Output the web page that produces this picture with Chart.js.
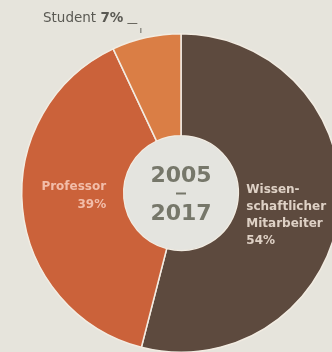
<!DOCTYPE html>
<html>
<head>
<meta charset="utf-8">
<script src="https://cdn.jsdelivr.net/npm/chart.js@4"></script>
<style>
  html, body { margin: 0; padding: 0; overflow: hidden; background: #e6e4dc; }
  #wrap { position: relative; width: 332px; height: 352px; overflow: hidden; }
  #pie { position: absolute; left: 0; top: 0; }
</style>
</head>
<body>
<div id="wrap"><canvas id="pie" width="360" height="360"></canvas></div>
<script>
// Anteile nach Gruppe, 2005 - 2017
const groups = ["Wissenschaftlicher Mitarbeiter", "Professor", "Student"];
const shares = [54, 39, 7];
const sliceColors = ["#5d4a3e", "#cb623a", "#da7e45"];
const yearFrom = "2005";
const yearTo = "2017";

const mitarbeiterLines = ["Wissen-", "schaftlicher", "Mitarbeiter"];
const labelFont = "'DejaVu Sans', sans-serif";

// light fill inside the hole
const holePlugin = {
  id: "hole",
  afterDatasetsDraw(chart) {
    const a = chart.getDatasetMeta(0).data[0];
    const ctx = chart.ctx;
    ctx.save();
    ctx.fillStyle = "#e4e4df";
    ctx.beginPath();
    ctx.arc(a.x, a.y, a.innerRadius - 0.5, 0, Math.PI * 2);
    ctx.fill();
    ctx.restore();
  }
};

const labelPlugin = {
  id: "sliceLabels",
  afterDatasetsDraw(chart) {
    const ctx = chart.ctx;
    const arcs = chart.getDatasetMeta(0).data;
    const cx = arcs[0].x, cy = arcs[0].y;
    const r = arcs[0].outerRadius;
    const lh = 17;

    ctx.save();
    ctx.textBaseline = "middle";

    // Mitarbeiter, right side
    let x = cx + r * 0.41;
    let y = cy - 3;
    ctx.textAlign = "left";
    ctx.fillStyle = "rgba(240,228,216,0.88)";
    ctx.font = "bold 12px " + labelFont;
    mitarbeiterLines.forEach((t, i) => ctx.fillText(t, x, y + i * lh));
    ctx.fillText(shares[0] + "%", x, y + 3 * lh);

    // Professor, left side
    x = cx - r * 0.47;
    y = cy - 6;
    ctx.textAlign = "right";
    ctx.fillStyle = "rgba(246,200,182,0.9)";
    ctx.fillText("Professor", x, y);
    ctx.fillText(shares[1] + "%", x, y + 18);

    // Student, outside with a short leader
    ctx.textAlign = "left";
    ctx.fillStyle = "#5a5953";
    ctx.font = "13.5px " + labelFont;
    const sx = 43, sy = 18;
    ctx.fillText("Student ", sx, sy);
    const w = ctx.measureText("Student ").width;
    ctx.font = "bold 13.5px " + labelFont;
    const pct = shares[2] + "%";
    ctx.fillText(pct, sx + w, sy);
    const ex = sx + w + ctx.measureText(pct).width + 4;
    ctx.strokeStyle = "#6a6860";
    ctx.lineWidth = 1;
    ctx.beginPath();
    ctx.moveTo(ex, sy + 5.5);
    ctx.lineTo(ex + 10, sy + 5.5);
    ctx.moveTo(ex + 13.5, sy + 10);
    ctx.lineTo(ex + 13.5, sy + 15);
    ctx.stroke();

    // years in the hole
    ctx.textAlign = "center";
    ctx.fillStyle = "#76776a";
    ctx.font = "bold 22px " + labelFont;
    ctx.fillText(yearFrom, cx, cy - 17);
    ctx.fillText(yearTo, cx, cy + 21);
    ctx.fillRect(cx - 5, cy - 0.5, 10, 2);
    ctx.restore();
  }
};

new Chart(document.getElementById("pie"), {
  type: "doughnut",
  data: {
    labels: groups,
    datasets: [{
      data: shares,
      backgroundColor: sliceColors,
      borderColor: "#f2ece2",
      borderWidth: 1.5
    }]
  },
  options: {
    responsive: false,
    animation: false,
    cutout: "36%",
    layout: { padding: { left: 21, top: 33, right: 19, bottom: 7 } },
    plugins: {
      legend: { display: false },
      tooltip: { enabled: false }
    }
  },
  plugins: [holePlugin, labelPlugin]
});
</script>
</body>
</html>
